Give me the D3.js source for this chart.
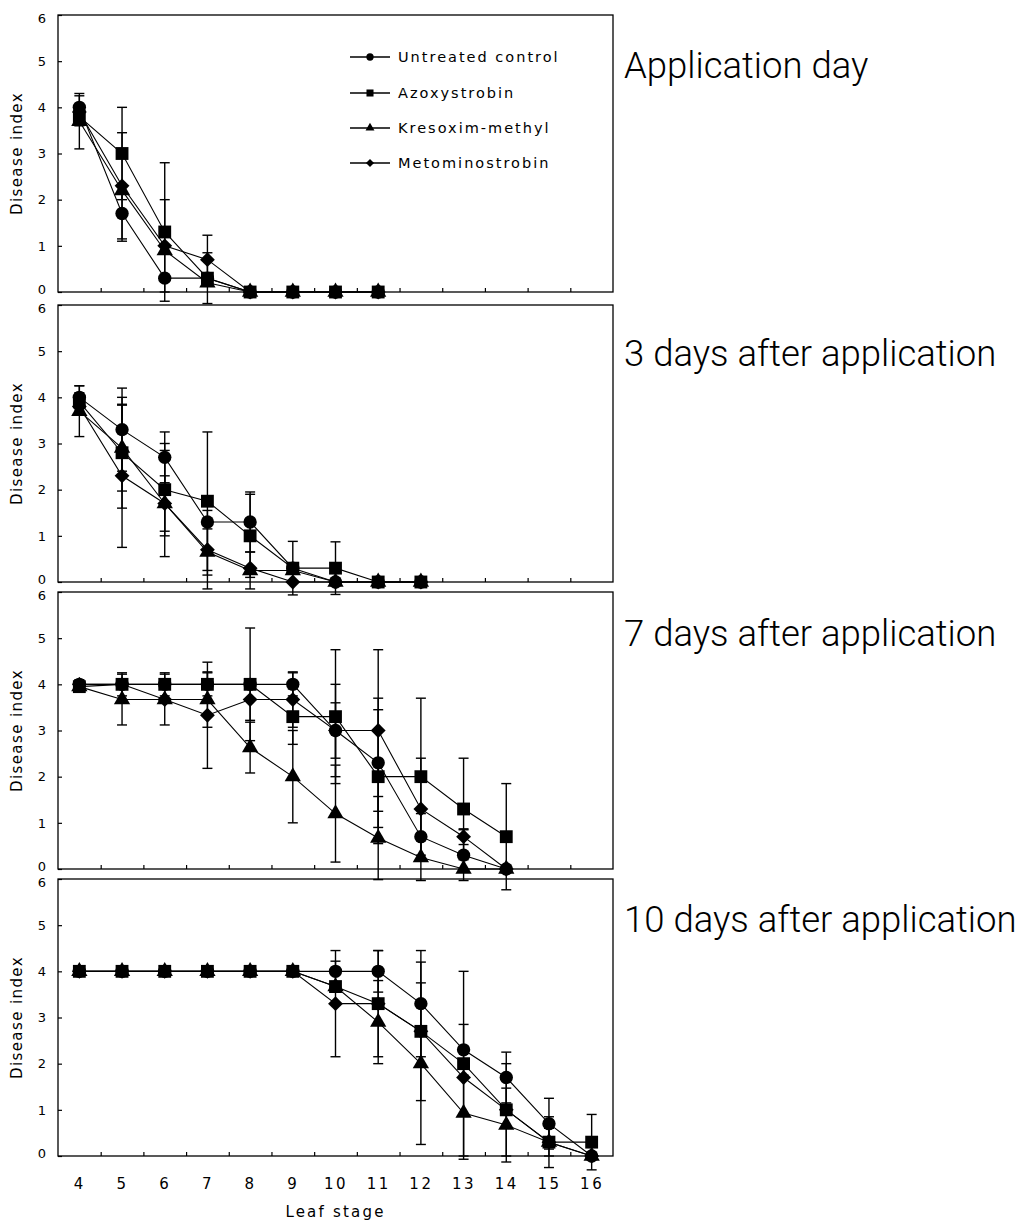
<!DOCTYPE html>
<html><head><meta charset="utf-8">
<script src="https://cdn.jsdelivr.net/npm/d3@7"></script>
<style>body{margin:0;background:#fff}</style>
</head><body>
<svg id="chart" width="1027" height="1225"></svg>
<script>
// ---------- data ----------
const seriesNames = ["Untreated control", "Azoxystrobin", "Kresoxim-methyl", "Metominostrobin"];
const markerShapes = ["circle", "square", "triangle", "diamond"];
const panelTitles = ["Application day", "3 days after application", "7 days after application", "10 days after application"];
const yTickValues = [0, 1, 2, 3, 4, 5, 6];
const xTickLabels = [4, 5, 6, 7, 8, 9, 10, 11, 12, 13, 14, 15, 16];
const xCategoryTicks = [4.5, 5.5, 6.5, 7.5, 8.5, 9.5, 10.5, 11.5, 12.5, 13.5, 14.5, 15.5];
const yAxisTitle = "Disease index";
const xAxisTitle = "Leaf stage";

// Application day
const day0Stages = [4, 5, 6, 7, 8, 9, 10, 11];
const day0Untreated = [4.0, 1.7, 0.3, 0.3, 0, 0, 0, 0];
const day0UntreatedSD = [0.25, 0.6, 0, 0, 0, 0, 0, 0];
const day0Azoxy = [3.8, 3.0, 1.3, 0.3, 0, 0, 0, 0];
const day0AzoxySD = [0.2, 1.0, 1.5, 0.55, 0, 0, 0, 0];
const day0Kresoxim = [3.7, 2.2, 0.9, 0.2, 0, 0, 0, 0];
const day0KresoximSD = [0.6, 0, 0, 0, 0, 0, 0, 0];
const day0Metomino = [3.9, 2.3, 1.0, 0.7, 0, 0, 0, 0];
const day0MetominoSD = [0, 1.15, 1.0, 0.53, 0, 0, 0, 0];

// 3 days after application
const day3Stages = [4, 5, 6, 7, 8, 9, 10, 11, 12];
const day3Untreated = [4.0, 3.3, 2.7, 1.3, 1.3, 0.3, 0, 0, 0];
const day3UntreatedSD = [0.25, 0.9, 0.55, 0, 0.65, 0.58, 0, 0, 0];
const day3Azoxy = [3.9, 2.8, 2.0, 1.75, 1.0, 0.3, 0.3, 0, 0];
const day3AzoxySD = [0.2, 1.2, 1.0, 1.5, 0.9, 0, 0.57, 0, 0];
const day3Kresoxim = [3.7, 2.9, 1.7, 0.65, 0.25, 0.25, 0, 0, 0];
const day3KresoximSD = [0.55, 0.93, 0.6, 0.5, 0.4, 0, 0, 0, 0];
const day3Metomino = [3.8, 2.3, 1.7, 0.7, 0.3, 0, 0, 0, 0];
const day3MetominoSD = [0, 1.55, 1.15, 0.85, 0, 0, 0, 0, 0];

// 7 days after application
const day7Stages = [4, 5, 6, 7, 8, 9, 10, 11, 12, 13, 14];
const day7Untreated = [4.0, 4.0, 4.0, 4.0, 4.0, 4.0, 3.0, 2.3, 0.7, 0.3, 0];
const day7UntreatedSD = [0.1, 0.25, 0.25, 0.25, 1.22, 0.25, 1.0, 1.4, 0.5, 0.55, 0];
const day7Azoxy = [3.95, 4.0, 4.0, 4.0, 4.0, 3.3, 3.3, 2.0, 2.0, 1.3, 0.7];
const day7AzoxySD = [0, 0, 0, 0, 0, 0.6, 1.45, 1.45, 1.7, 1.1, 1.15];
const day7Kresoxim = [3.95, 3.67, 3.67, 3.67, 2.63, 2.0, 1.2, 0.67, 0.25, 0, 0];
const day7KresoximSD = [0, 0.55, 0.55, 0.6, 0.55, 1.0, 1.05, 0.9, 0.5, 0, 0];
const day7Metomino = [4.0, 4.0, 3.67, 3.33, 3.67, 3.67, 3.0, 3.0, 1.3, 0.7, 0];
const day7MetominoSD = [0, 0, 0, 1.15, 0.45, 0.6, 0.6, 1.75, 1.1, 0.17, 0];

// 10 days after application
const day10Stages = [4, 5, 6, 7, 8, 9, 10, 11, 12, 13, 14, 15, 16];
const day10Untreated = [4, 4, 4, 4, 4, 4, 4.0, 4.0, 3.3, 2.3, 1.7, 0.7, 0];
const day10UntreatedSD = [0.1, 0, 0, 0, 0, 0, 0.22, 0.45, 1.15, 0.55, 0.55, 0.55, 0];
const day10Azoxy = [4, 4, 4, 4, 4, 4, 3.67, 3.3, 2.7, 2.0, 1.0, 0.3, 0.3];
const day10AzoxySD = [0, 0, 0, 0, 0, 0, 0, 1.15, 1.5, 2.0, 1.0, 0.55, 0.6];
const day10Kresoxim = [4, 4, 4, 4, 4, 4, 3.67, 2.9, 2.0, 0.93, 0.67, 0.3, 0];
const day10KresoximSD = [0, 0, 0, 0, 0, 0, 0, 0.9, 1.75, 1.0, 0.8, 0.3, 0];
const day10Metomino = [4, 4, 4, 4, 4, 4, 3.3, 3.3, 2.7, 1.7, 1.0, 0.3, 0];
const day10MetominoSD = [0, 0, 0, 0, 0, 0, 1.15, 0, 0, 0, 0, 0, 0];

// ---------- assemble ----------
const panels = [
  {stages: day0Stages, values: [day0Untreated, day0Azoxy, day0Kresoxim, day0Metomino], sd: [day0UntreatedSD, day0AzoxySD, day0KresoximSD, day0MetominoSD]},
  {stages: day3Stages, values: [day3Untreated, day3Azoxy, day3Kresoxim, day3Metomino], sd: [day3UntreatedSD, day3AzoxySD, day3KresoximSD, day3MetominoSD]},
  {stages: day7Stages, values: [day7Untreated, day7Azoxy, day7Kresoxim, day7Metomino], sd: [day7UntreatedSD, day7AzoxySD, day7KresoximSD, day7MetominoSD]},
  {stages: day10Stages, values: [day10Untreated, day10Azoxy, day10Kresoxim, day10Metomino], sd: [day10UntreatedSD, day10AzoxySD, day10KresoximSD, day10MetominoSD]}
];

const svg = d3.select("#chart");
const plotLeft = 58, plotRight = 613, plotH = 277;
const panelTops = [15, 305, 592, 879];
const titleBaselines = [78, 366, 646, 932];
const labelFont = "DejaVu Sans";

const x = d3.scaleLinear().domain([3.5, 16.5]).range([plotLeft, plotRight]);

function symbolPath(shape, big) {
  const s = big ? 1 : 0.3;
  if (shape === "circle") return d3.symbol(d3.symbolCircle, 140 * s)();
  if (shape === "square") return d3.symbol(d3.symbolSquare, 165 * s)();
  if (shape === "triangle") return d3.symbol(d3.symbolTriangle, 115 * s)();
  return d3.symbol(d3.symbolSquare, 110 * s)();
}
function symbolRot(shape) { return shape === "diamond" ? " rotate(45)" : ""; }

panels.forEach((p, pi) => {
  const top = panelTops[pi];
  const y = d3.scaleLinear().domain([0, 6]).range([top + plotH, top]);
  const g = svg.append("g");

  // frame
  g.append("rect").attr("x", plotLeft).attr("y", top).attr("width", plotRight - plotLeft).attr("height", plotH)
    .attr("fill", "none").attr("stroke", "#000").attr("stroke-width", 1.3);

  // y axis
  const ya = g.append("g").attr("transform", `translate(${plotLeft},0)`)
    .call(d3.axisLeft(y).tickValues(yTickValues).tickSize(-4).tickPadding(12).tickFormat(d3.format("d")));
  ya.select(".domain").remove();
  ya.selectAll("line").attr("stroke", "#000").attr("stroke-width", 1.2);
  ya.selectAll("text").attr("font-family", labelFont).attr("font-size", 13).attr("fill", "#000")
    .attr("transform", d => d === 0 ? "translate(0,-3)" : (d === 6 ? "translate(0,3)" : null));

  // x category ticks
  const xa = g.append("g").attr("transform", `translate(0,${top + plotH})`)
    .call(d3.axisBottom(x).tickValues(xCategoryTicks).tickSize(-4).tickFormat(""));
  xa.select(".domain").remove();
  xa.selectAll("line").attr("stroke", "#000").attr("stroke-width", 1.2);

  // y axis title
  g.append("text").attr("transform", `translate(22,${top + plotH / 2}) rotate(-90)`)
    .attr("text-anchor", "middle").attr("font-family", labelFont).attr("font-size", 15)
    .attr("letter-spacing", 1.4).text(yAxisTitle);

  // panel title
  svg.append("text").attr("x", 624).attr("y", titleBaselines[pi])
    .attr("font-family", "Roboto, 'Liberation Sans', sans-serif").attr("font-weight", 300)
    .attr("font-size", 36.5).attr("fill", "#000").text(panelTitles[pi]);

  // series
  p.values.forEach((vals, si) => {
    const pts = p.stages.map((st, i) => ({st, v: vals[i], e: p.sd[si][i]}));
    const line = d3.line().x(d => x(d.st)).y(d => y(d.v));
    g.append("path").datum(pts).attr("d", line).attr("fill", "none").attr("stroke", "#000").attr("stroke-width", 1.1);
    const eb = g.append("g");
    pts.filter(d => d.e > 0).forEach(d => {
      const cx = x(d.st), y1 = y(d.v + d.e), y2 = y(d.v - d.e);
      eb.append("line").attr("x1", cx).attr("x2", cx).attr("y1", y1).attr("y2", y2).attr("stroke", "#000").attr("stroke-width", 1.4);
      [y1, y2].forEach(yy => eb.append("line").attr("x1", cx - 5).attr("x2", cx + 5).attr("y1", yy).attr("y2", yy).attr("stroke", "#000").attr("stroke-width", 1.4));
    });
    g.append("g").selectAll("path").data(pts).join("path")
      .attr("d", symbolPath(markerShapes[si], true))
      .attr("transform", d => `translate(${x(d.st)},${y(d.v)})${symbolRot(markerShapes[si])}`)
      .attr("fill", "#000");
  });

  // bottom x labels
  if (pi === panels.length - 1) {
    const xl = g.append("g").attr("transform", `translate(0,${top + plotH})`)
      .call(d3.axisBottom(x).tickValues(xTickLabels).tickSize(0).tickPadding(22).tickFormat(d3.format("d")));
    xl.select(".domain").remove();
    xl.selectAll("text").attr("font-family", labelFont).attr("font-size", 15).attr("letter-spacing", 2.5).attr("fill", "#000");
    g.append("text").attr("x", (plotLeft + plotRight) / 2).attr("y", 1217).attr("text-anchor", "middle")
      .attr("font-family", labelFont).attr("font-size", 15).attr("letter-spacing", 2.2).text(xAxisTitle);
  }
});

// legend
const legendRows = [57, 93, 128, 163];
const lg = svg.append("g");
seriesNames.forEach((name, i) => {
  const yy = legendRows[i];
  lg.append("line").attr("x1", 350).attr("x2", 390).attr("y1", yy).attr("y2", yy).attr("stroke", "#000").attr("stroke-width", 1.5);
  lg.append("path").attr("d", symbolPath(markerShapes[i], false))
    .attr("transform", `translate(370,${yy})${symbolRot(markerShapes[i])}`).attr("fill", "#000");
  lg.append("text").attr("x", 398).attr("y", yy + 5).attr("font-family", labelFont).attr("font-size", 14.5)
    .attr("letter-spacing", 2).text(name);
});
</script>
</body></html>
